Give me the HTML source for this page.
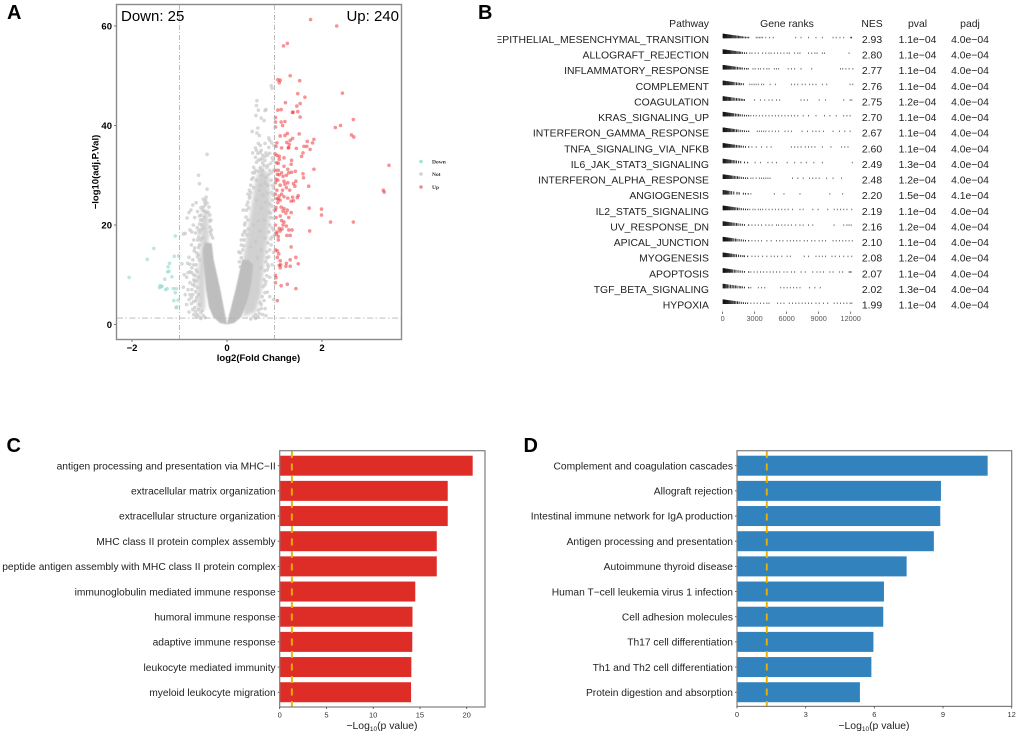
<!DOCTYPE html>
<html><head><meta charset="utf-8"><title>Figure panels</title>
<style>
html,body{margin:0;padding:0;background:#fff}
svg{display:block}
text{font-family:"Liberation Sans",sans-serif}
</style></head>
<body>
<svg id="fig" xmlns="http://www.w3.org/2000/svg" width="1020" height="738" viewBox="0 0 1020 738">
<defs>
<clipPath id="pw-clip"><rect x="497.5" y="20" width="220" height="300"/></clipPath>
<filter id="soft-wing" x="-20%" y="-20%" width="140%" height="140%"><feGaussianBlur stdDeviation="1.6"/></filter>
<filter id="soft-core" x="-20%" y="-20%" width="140%" height="140%"><feGaussianBlur stdDeviation="0.6"/></filter>
</defs>
<rect width="1020" height="738" fill="#fff"/>
<text x="7" y="19" font-size="20" font-weight="bold">A</text>
<text x="478" y="19" font-size="20" font-weight="bold">B</text>
<text x="6.5" y="452" font-size="20" font-weight="bold">C</text>
<text x="523.5" y="452" font-size="20" font-weight="bold">D</text>
<g id="volcano"></g>
<text x="121" y="21" font-size="15">Down: 25</text>
<text x="399" y="21" font-size="15" text-anchor="end">Up: 240</text>
<text x="258.5" y="361" font-size="9.5" font-weight="bold" text-anchor="middle">log2(Fold Change)</text>
<text transform="translate(98.5,172) rotate(-90)" font-size="9.5" font-weight="bold" text-anchor="middle">−log10(adj.P.Val)</text>
<g>
<circle cx="421" cy="161.5" r="1.8" fill="#a6e0d8"/>
<text x="432" y="163.5" font-size="5.5" font-weight="bold" style="font-family:'Liberation Serif',serif" fill="#333">Down</text>
<circle cx="421" cy="174" r="1.8" fill="#d0d0d0"/>
<text x="432" y="176" font-size="5.5" font-weight="bold" style="font-family:'Liberation Serif',serif" fill="#333">Not</text>
<circle cx="421" cy="187" r="1.8" fill="#f58a8a"/>
<text x="432" y="189" font-size="5.5" font-weight="bold" style="font-family:'Liberation Serif',serif" fill="#333">Up</text>
</g>
<g id="gsea"></g>
<g id="barC"></g>
<g id="barD"></g>
</svg>
<script>
/* ---------- Panel A data (log2FC, -log10 adj P) ---------- */
const volcanoXTicks = [-2, 0, 2];
const volcanoYTicks = [0, 20, 40, 60];
const fcCutoff = 1;
const pCutoff = 1.3;
const coreBandLeft = [[0,0],[-0.15,0.3],[-0.29,1.5],[-0.38,3.5],[-0.44,7],[-0.48,11],[-0.51,15],[-0.46,16.5],[-0.32,16.3],[-0.28,13],[-0.21,10],[-0.14,7],[-0.08,4],[-0.02,1]];
const coreBandRight = [[0,0],[0.15,0.3],[0.3,1.5],[0.38,3.5],[0.46,6],[0.52,9],[0.55,12],[0.45,13],[0.32,13],[0.25,10],[0.18,7],[0.1,4],[0.02,1]];
const wingLeft = [[-0.62,3],[-0.62,10],[-0.56,15],[-0.54,20],[-0.48,23],[-0.4,23],[-0.38,18],[-0.46,10],[-0.46,3]];
const wingRight = [[0.35,1.5],[0.6,2.5],[0.72,6],[0.78,12],[0.86,18],[0.92,24],[0.88,30],[0.72,32],[0.6,29],[0.52,24],[0.42,18],[0.34,13],[0.32,7]];
const notPoints = [[-0.92,18.2],[-0.88,18.3],[-0.8,22.5],[-0.76,23],[-0.72,24],[-0.65,24.5],[-0.6,30],[-0.58,28.3],[-0.42,34.2],[-0.42,27.2],[-0.5,25.2],[-0.47,24.6],[-0.55,23.5],[-0.62,22.7],[-0.68,21.5],[-0.71,20],[-0.66,18.4],[-0.62,17],[-0.75,16],[-0.8,13.5],[-0.83,12.3],[-0.78,12.1],[-0.72,13],[-0.95,12.2],[-0.9,10],[-0.85,9.5],[-0.92,7.5],[-0.82,7],[-0.78,6],[-0.88,6],[-0.75,4.2],[-0.85,4],[-0.8,2.5],[-0.7,2],[-0.65,1.7],[-0.6,3],[-0.68,7.8],[-0.6,9.5],[-0.65,11],[-0.58,13],[-0.6,15.5],[-0.55,19],[-0.52,21],[-0.7,9],[-0.74,10.4],[-0.69,14.8],[-0.63,19.5],[-0.58,21.8],[-0.6,6],[-0.66,4.8],[-0.72,3],[-0.55,1.2],[-0.48,22.8],[-0.4,22.5],[-0.36,20.8],[-0.33,19],[-0.44,25.6],[-0.52,17.4],
[-0.74,7],[-0.72,6],[-0.7,4.6],[-0.68,3.4],[-0.66,2.6],[-0.62,2],[-0.58,1.5],[-0.7,10],[-0.68,8.6],[-0.66,6.6],[-0.64,5.4],[-0.67,9.8],[-0.65,12],[-0.63,10.6],[-0.62,13.6],[-0.64,14.4],[-0.6,14],[-0.58,16],[-0.6,17.6],[-0.58,18.4],[-0.56,17],[-0.6,19],[-0.58,20.2],[-0.56,21],[-0.55,22],[-0.52,23],[-0.5,23.6],[-0.46,24],[-0.42,24.4],[-0.38,23.6],[-0.36,22],[-0.34,21],[-0.36,19.6],[-0.33,18],[-0.3,17.4],[-0.35,18.6],[-0.45,25],[-0.53,20],[-0.5,19.4],[-0.48,21.6],[-0.44,22.6],[-0.78,8.4],[-0.8,5],[-0.75,5.4],[-0.72,8],[-0.78,10.6],[-0.74,11.4],[-0.7,12],[-0.82,10.4],[-0.68,15.4],[-0.7,17],[-0.74,18.6],[-0.78,19],[-0.84,21.4],[-0.62,7.4],[-0.64,8.8],[-0.58,4],[-0.55,2.4],[-0.5,1.8],[-0.52,2.8],[-0.46,1.4],
[0.93,48],[0.95,47.5],[0.63,45],[0.62,44],[0.66,43.1],[0.8,43],[0.82,43.2],[0.61,42],[0.72,41.5],[0.78,41],[0.65,39.5],[0.53,38.8],[0.63,38.5],[0.68,38],[0.88,37.5],[0.9,37],[0.94,36.5],[0.99,36],[0.6,35.5],[0.62,35],[0.54,34.5],[0.72,35],[0.75,34],[0.82,34.5],[0.95,33.5],[0.97,33],[0.75,32.5],[0.78,32],[0.7,31.5],[0.6,31],[0.58,30.5],[0.66,30.8],[0.73,30],[0.84,31.6],[0.92,32.4],[0.98,31],[0.88,30.2],[0.93,29],[0.55,29.5],[0.62,29],[0.5,26.5],[0.44,26.2],[0.47,25.4],[0.56,27.5],[0.7,28],[0.8,28.4],[0.98,27.4],[0.96,25],[0.99,23],[0.92,21.5],[0.98,19],[1,18],[0.95,17.6],[0.93,16],[0.98,14.5],[0.95,12],[0.87,11.6],[0.85,11],[0.9,9.5],[0.8,8],[0.85,6.5],[0.9,5.6],[0.98,5],[0.8,3.2],[0.75,2],[0.65,1.6],[0.72,4],[0.84,13.4],[0.38,20.4],[0.36,18.5],[0.34,23],[0.42,24],[0.3,17],[0.25,14.6],[0.6,1.2],[0.5,1.1],[0.82,1.8],[0.72,11.4],[0.9,24.2],[0.86,26.4],[0.35,15.8],[0.45,19.2],
[0.62,32.6],[0.66,33],[0.7,33.2],[0.74,33.3],[0.8,33],[0.86,32],[0.9,31],[0.94,30.5],[0.96,28],[0.94,26.5],[0.97,26],[0.95,23.8],[0.92,22.4],[0.97,21.4],[0.9,20],[0.95,19.4],[0.88,18.6],[0.92,17.2],[0.86,16.4],[0.9,15],[0.84,14.6],[0.88,13.6],[0.82,12.6],[0.86,12],[0.8,10.8],[0.84,9.8],[0.78,9],[0.82,8.6],[0.76,7.6],[0.8,6.4],[0.74,5.6],[0.78,4.8],[0.7,4.4],[0.72,3.2],[0.66,2.9],[0.68,2.2],[0.6,2],[0.56,1.6],
[0.56,31.6],[0.54,30.5],[0.52,29.2],[0.5,28],[0.47,27],[0.48,25.8],[0.44,24.6],[0.46,23.4],[0.41,23],[0.4,21.6],[0.44,21],[0.37,20],[0.38,18.8],[0.42,18],[0.33,18],[0.36,17],[0.3,16],[0.33,15],[0.28,14.4],[0.3,13.4],[0.26,12.6],[0.28,11.6],
[0.6,33.6],[0.65,34.4],[0.7,34.6],[0.8,33.8],[0.85,34],[0.9,34.4],[0.88,35.6],[0.66,36.4],[0.7,36],[0.8,36.4],[0.74,31],[0.82,29.6],[0.86,28],[0.68,27],[0.76,26],[0.82,24.6],[0.72,23.4],[0.62,25],[0.88,22.6],[0.78,21],[0.66,20.8],[0.56,20],[0.7,18.8],[0.8,17.4],[0.6,16.6],[0.5,15.6],[0.72,15],[0.64,13.4]];
const upPoints = [[1.76,61.3],[2.31,60],[1.19,56],[1.27,56.5],[1.33,50],[1.07,49.2],[1.12,49.1],[1.1,48.6],[1.53,49],[2.43,46.5],[1.49,46.4],[1.64,45.7],[1.54,44.4],[1.47,43.9],[1.23,44.6],[1.07,43.1],[1.14,43.2],[1.38,42.6],[1.39,42.7],[1.49,42.8],[1.02,41.6],[1.54,41.7],[2.66,41.2],[1.14,40.7],[1.22,40.8],[1.02,40.7],[1.17,40],[1.02,39.7],[2.39,40],[2.28,39.6],[2.62,38.1],[2.67,37.7],[1.52,38.3],[3.41,32],[3.29,27],[3.31,26.6],
[1.27,38.4],[1.22,38],[1.12,37.9],[1.38,37.4],[1.33,37],[1.26,36.6],[1.31,36.2],[1.05,36.5],[1.03,35.8],[1.15,35.5],[1.29,35.5],[1.3,35.6],[1.46,35.4],[1.62,35.8],[1.69,36.8],[1.83,37.2],[1.75,35.2],[1.6,34.5],[1.68,35.8],[1.8,36.5],[1.01,34.3],[1.05,34],[1.1,33.8],[1.2,33.5],[1.36,33],[1.57,33.8],[1.1,33.2],[1.04,32.5],[1.08,32.4],[1.35,32.2],[1.2,31.8],[1.28,31.2],[1.44,30.8],[1.83,31.2],[1.02,31],[1.08,31],[1.15,30.5],[1.25,30],[1.3,30.5],[1.36,30.6],[1.6,30.3],[1.61,29.5],[1.06,30.2],[1.1,30.1],[1.18,29.8],[1.03,29.2],[1.07,29],[1.2,28.8],[1.28,28.5],[1.4,28.3],[1.45,28.8],[1.02,28.5],[1.12,28],[1.22,28.2],[1.25,27.5],[1.43,27.8],[1.72,27.8],[1.05,27],[1.17,27],[1.32,27],[1.02,26.2],[1.15,26.2],[1.1,25.8],[1.2,25.7],[1.28,25.4],[1.38,25.6],[1.5,25.9],[1.48,25.5],[1.05,25.3],[1.08,25.2],[1.12,25],[1.35,24.8],[1.4,24.9],[1.07,24.5],[1.03,23.5],[1.14,23.6],[1.2,23.3],[1.27,23],[1.73,23.4],[1.99,23.2],[1.02,23],[1.18,22.8],[1.24,22.4],[1.35,22.5],[1.99,22],[1.03,21.5],[1.12,21.8],[1.3,21.5],[1.15,20.9],[1.2,20.6],[1.02,20],[1.18,20],[1.25,19.8],[2.18,20.6],[2.66,20.6],[1.1,19.3],[1.16,19.2],[1.3,19],[1.37,19],[1.74,18.8],[1.05,18.6],[1.12,18.8],[1.04,18.2],[1.08,17.7],[1.26,17.9],[1.33,17.9],[1.08,17],[1.35,15.6],[1.02,15],[1.06,14.8],[1.09,14.2],[1.06,13.5],[1.45,13.5],[1.33,13],[1.12,12.8],[1.25,12.3],[1.13,12],[1.5,12.2],[1.1,11.9],[1.33,11.7],[1.24,11.7],[1.12,11.4],[1.02,9.9],[1.03,9.4],[1.02,8.4],[1.14,7.8],[1.27,8.1],[1.45,7.2],[1.06,4.8]];
const downPoints = [[-2.06,9.45],[-1.68,13.1],[-1.54,15.3],[-1.09,17.8],[-1.11,13.7],[-1.02,13.8],[-1.21,12.3],[-1.24,11.6],[-1.25,10.6],[-1.16,9.6],[-1.31,9.1],[-1.22,10.7],[-1.41,7.8],[-1.38,7.6],[-1.42,7.4],[-1.29,7],[-1.26,7.2],[-1.13,7.2],[-1.07,7.2],[-1.09,6.4],[-1.12,4.8],[-1.03,4.9],[-1.07,3.4],[-1.06,3.5],[-1.37,7.7]];

/* ---------- Panel B data ---------- */
const pathways = ["HALLMARK_EPITHELIAL_MESENCHYMAL_TRANSITION","ALLOGRAFT_REJECTION","INFLAMMATORY_RESPONSE","COMPLEMENT","COAGULATION","KRAS_SIGNALING_UP","INTERFERON_GAMMA_RESPONSE","TNFA_SIGNALING_VIA_NFKB","IL6_JAK_STAT3_SIGNALING","INTERFERON_ALPHA_RESPONSE","ANGIOGENESIS","IL2_STAT5_SIGNALING","UV_RESPONSE_DN","APICAL_JUNCTION","MYOGENESIS","APOPTOSIS","TGF_BETA_SIGNALING","HYPOXIA"];
const nesValues = ["2.93","2.80","2.77","2.76","2.75","2.70","2.67","2.60","2.49","2.48","2.20","2.19","2.16","2.10","2.08","2.07","2.02","1.99"];
const pvalValues = ["1.1e−04","1.1e−04","1.1e−04","1.1e−04","1.2e−04","1.1e−04","1.1e−04","1.1e−04","1.3e−04","1.2e−04","1.5e−04","1.1e−04","1.2e−04","1.1e−04","1.2e−04","1.1e−04","1.3e−04","1.1e−04"];
const padjValues = ["4.0e−04","4.0e−04","4.0e−04","4.0e−04","4.0e−04","4.0e−04","4.0e−04","4.0e−04","4.0e−04","4.0e−04","4.1e−04","4.0e−04","4.0e−04","4.0e−04","4.0e−04","4.0e−04","4.0e−04","4.0e−04"];
const rankTicks = [0,3000,6000,9000,12000];
const geneRanks = [
[0,40,80,130,180,230,290,350,420,490,560,640,720,800,900,1000,1100,1200,1320,1440,1560,1680,1800,1950,2100,2250,2400,3100,3250,3400,3550,3700,4000,4350,4700,6800,7300,8000,8700,9300,10300,10600,10950,11300,11950,12000,12030],
[0,40,80,120,170,220,270,330,390,460,530,600,680,760,850,950,1050,1150,1280,1400,1520,1650,1800,2000,2200,2500,2700,3000,3300,3700,4000,4300,4500,4800,5100,5400,5700,6000,6200,6700,7000,7200,8000,8300,8600,8800,9300,9500,11800],
[0,40,90,140,200,260,330,400,480,560,650,750,850,960,1080,1200,1350,1500,1650,1800,2000,2200,2350,2800,3000,3300,3500,3800,4100,4300,4800,5000,5200,6100,6400,6700,7300,8300,11000,11200,11500,11800,12150],
[0,50,100,160,230,300,380,460,550,650,750,850,950,1100,1250,1400,1550,1700,1900,2500,2700,2900,3100,3300,3600,3800,4400,4900,6400,6700,7000,7400,7700,8100,8400,8700,9300,9700,11900,12150],
[0,50,110,170,240,320,400,500,600,700,820,950,1100,1250,1400,1550,1700,1850,2000,2950,3500,3900,4300,4600,5000,5300,7300,7600,7900,9000,9600,11300,11900,12050],
[0,40,80,130,180,240,300,370,440,520,600,700,800,900,1000,1150,1300,1450,1600,1800,2000,2200,2400,2600,2850,3100,3400,3700,4000,4300,4600,4900,5200,5500,5800,6100,6400,6700,7000,7500,8000,8700,9500,10000,10600,11300,11600,11900],
[0,40,80,130,190,250,320,390,470,560,650,750,860,980,1100,1250,1400,1600,1800,2000,2200,2400,3200,3400,3600,3800,4000,4300,4600,4900,5200,5800,6100,6400,7400,7900,8400,8700,9000,9400,10300,10900,11400,11900],
[0,40,80,130,180,240,300,370,440,520,600,700,800,900,1000,1100,1250,1400,1550,1700,1900,2100,2400,2700,3100,3600,4100,4500,6400,6700,7000,7300,7700,8000,8300,8600,9300,10100,11100,11400,11700],
[0,50,110,170,240,310,400,490,590,700,820,950,1100,1250,1450,1650,2000,2300,3000,3500,4200,4600,5000,6000,6700,7300,7800,8500,9300,12100],
[0,40,90,140,200,270,340,420,500,590,700,800,920,1050,1200,1350,1500,1700,1900,2100,2300,2600,2800,3100,3400,3600,3800,4000,4200,4400,6500,7000,7500,8100,8400,8700,9000,9700,10300,11100],
[0,70,150,230,320,420,520,650,800,1000,1300,1500,1900,2100,2350,2600,4800,5700,7200,10000,11200],
[0,40,80,120,170,220,280,340,410,480,560,650,750,850,950,1080,1200,1350,1500,1700,1900,2100,2300,2500,2800,3000,3300,3500,3700,4000,4300,4600,4900,5200,5500,5800,6100,6500,7200,7500,8400,8900,9800,10400,10700,11000,11300,11600,12050],
[0,50,100,160,220,290,360,440,520,620,720,820,950,1100,1250,1400,1600,1800,2000,2400,2700,3000,3300,3600,4000,4300,4600,5000,5200,5500,5800,6100,6400,6800,7200,7500,8000,8400,10400,11300,11600,11800,12000],
[0,40,80,120,170,220,280,340,410,480,560,650,750,850,1000,1150,1300,1500,1700,1900,2100,2400,2700,3000,3300,3600,4100,4500,5000,5300,5600,6000,6300,6600,6900,7200,7600,7900,8300,8600,9000,9300,9600,10300,10600,10900,11200,11500,11800,12100],
[0,50,100,160,220,290,360,440,520,620,720,820,950,1100,1250,1450,1650,1850,2000,2300,2700,3000,3300,3700,4100,4500,4800,5100,5500,6000,6300,7600,8000,8700,9000,9300,9600,10200,10500,10900,11300,11700,12050],
[0,40,80,130,180,240,300,370,440,520,600,700,800,900,1050,1200,1400,1600,1800,2000,2400,2600,2900,3200,3500,3800,4100,4400,4700,5000,5300,5700,6000,6400,6700,7300,7700,8400,8800,9100,9400,10000,10300,10900,11200,11800,11900,12000],
[0,60,130,210,300,420,550,700,850,1000,1150,1300,1500,1650,1800,2000,2400,2600,3300,3600,3900,5400,5700,6000,6300,6600,6900,7200,8100,8600,9100],
[0,40,80,120,170,220,280,340,410,480,560,650,750,850,950,1080,1200,1350,1500,1700,1900,2100,2300,2600,2900,3200,3500,3800,4100,4300,5100,5400,5700,6200,6500,6800,7100,7400,7700,8000,8300,8700,9000,9400,9800,10400,10700,11000,11300,11600,11900,12050]
];

/* ---------- Panels C and D data ---------- */
const goTerms = ["antigen processing and presentation via MHC−II","extracellular matrix organization","extracellular structure organization","MHC class II protein complex assembly","peptide antigen assembly with MHC class II protein complex","immunoglobulin mediated immune response","humoral immune response","adaptive immune response","leukocyte mediated immunity","myeloid leukocyte migration"];
const goValues = [20.64,17.97,17.97,16.8,16.8,14.5,14.2,14.18,14.08,14.05];
const goTicks = [0,5,10,15,20];
const keggTerms = ["Complement and coagulation cascades","Allograft rejection","Intestinal immune network for IgA production","Antigen processing and presentation","Autoimmune thyroid disease","Human T−cell leukemia virus 1 infection","Cell adhesion molecules","Th17 cell differentiation","Th1 and Th2 cell differentiation","Protein digestion and absorption"];
const keggValues = [10.95,8.91,8.88,8.6,7.41,6.42,6.39,5.96,5.87,5.37];
const keggTicks = [0,3,6,9,12];
const sigThreshold = 1.3;

/* ---------- helpers ---------- */
const NS = "http://www.w3.org/2000/svg";
function mk(parent, tag, attrs, txt) {
  const e = document.createElementNS(NS, tag);
  for (const k in attrs) e.setAttribute(k, attrs[k]);
  if (txt !== undefined) e.textContent = txt;
  parent.appendChild(e);
  return e;
}

/* ---------- Panel A ---------- */
(function () {
  const g = document.getElementById("volcano");
  const sx = v => 227 + v * 47.5;
  const sy = v => 324.5 - v * 4.975;
  function band(pts, fill, op, name, filter) {
    const p = mk(g, "polygon", {points: pts.map(d => sx(d[0]) + "," + sy(d[1])).join(" "), fill: fill, opacity: op, filter: filter});
    
    
  }
  band(wingLeft, "#cacaca", 0.8, "not-wing-left", "url(#soft-wing)");
  band(wingRight, "#cacaca", 0.85, "not-wing-right", "url(#soft-wing)");
  notPoints.forEach(d => {
    const c = mk(g, "circle", {cx: sx(d[0]), cy: sy(d[1]), r: 1.8, fill: "#c8c8c8", opacity: 0.7});
    
    
  });
  band(coreBandLeft, "#bebebe", 1, "not-core-left", "url(#soft-core)");
  band(coreBandRight, "#bebebe", 1, "not-core-right", "url(#soft-core)");
  downPoints.forEach(d => {
    const c = mk(g, "circle", {cx: sx(d[0]), cy: sy(d[1]), r: 1.8, fill: "#9fdcd2", opacity: 0.7});
    
    
  });
  upPoints.forEach(d => {
    const c = mk(g, "circle", {cx: sx(d[0]), cy: sy(d[1]), r: 1.8, fill: "#f0252b", opacity: 0.5});
    
    
  });
  [-fcCutoff, fcCutoff].forEach(v => {
    const l = mk(g, "line", {x1: sx(v), x2: sx(v), y1: 5, y2: 339, stroke: "#b5b5b5", "stroke-width": 0.9, "stroke-dasharray": "5 2 1 2"});
    
    
  });
  const h = mk(g, "line", {x1: 117, x2: 401, y1: sy(pCutoff), y2: sy(pCutoff), stroke: "#b5b5b5", "stroke-width": 0.9, "stroke-dasharray": "6 2.5 1.5 2.5"});
  
  
  const fr = mk(g, "rect", {x: 116.5, y: 4.5, width: 285, height: 335, fill: "none", stroke: "#8a8a8a", "stroke-width": 1.4});
  
  
  volcanoXTicks.forEach(v => {
    const tk = mk(g, "line", {x1: sx(v), x2: sx(v), y1: 340, y2: 342, stroke: "#555", "stroke-width": 0.8});
    
    
    const t = mk(g, "text", {x: sx(v), y: 351, "font-size": 9.5, "font-weight": "bold", "text-anchor": "middle"}, String(v).replace("-", "−"));
    
    
  });
  volcanoYTicks.forEach(v => {
    const tk = mk(g, "line", {x1: 114, x2: 116, y1: sy(v), y2: sy(v), stroke: "#555", "stroke-width": 0.8});
    
    
    const t = mk(g, "text", {x: 112, y: sy(v) + 3.3, "font-size": 9.5, "font-weight": "bold", "text-anchor": "end"}, v);
    
    
  });
})();

/* ---------- Panel B ---------- */
(function () {
  const g = document.getElementById("gsea");
  const sx = r => 722.6 + r * (128.1 / 12000);
  const rowY = i => 39.3 + i * 15.63;
  const heads = [["Pathway", 709, "end"], ["Gene ranks", 787, "middle"], ["NES", 872, "middle"], ["pval", 917.5, "middle"], ["padj", 970, "middle"]];
  heads.forEach(h => {
    const t = mk(g, "text", {x: h[1], y: 27, "font-size": 10.4, "text-anchor": h[2], fill: "#222"}, h[0]);
    
    
  });
  pathways.forEach((p, i) => {
    const y = rowY(i);
    const base = y + 3.6;
    const t = mk(g, "text", {x: 709, y: base, "font-size": 10.4, "text-anchor": "end", fill: "#222", "clip-path": "url(#pw-clip)"}, p);
    
    
    const n = mk(g, "text", {x: 872, y: base, "font-size": 10.4, "text-anchor": "middle", fill: "#222"}, nesValues[i]);
    
    
    const pv = mk(g, "text", {x: 917.5, y: base, "font-size": 10.4, "text-anchor": "middle", fill: "#222"}, pvalValues[i]);
    
    
    const pa = mk(g, "text", {x: 970, y: base, "font-size": 10.4, "text-anchor": "middle", fill: "#222"}, padjValues[i]);
    
    
    geneRanks[i].forEach(r => {
      const hgt = Math.max(1.5, 4.6 - r / 700);
      const m = mk(g, "rect", {x: sx(r), y: y - 1 - hgt, width: 1, height: hgt, fill: "#111", opacity: r < 2500 ? 0.9 : 0.6});
      
      
    });
  });
  rankTicks.forEach(v => {
    const tk = mk(g, "line", {x1: sx(v), x2: sx(v), y1: 311.5, y2: 314, stroke: "#444", "stroke-width": 0.7});
    
    
    const t = mk(g, "text", {x: sx(v), y: 321, "font-size": 7.3, "text-anchor": "middle", fill: "#555"}, v);
    
    
  });
})();

/* ---------- Panels C and D ---------- */
function barChart(id, terms, values, ticks, o) {
  const g = document.getElementById(id);
  const sx = v => o.x0 + v * o.k;
  const cy = i => 465.7 + i * 25.17;
  terms.forEach((t, i) => {
    const b = mk(g, "rect", {x: o.x0, y: cy(i) - 10, width: values[i] * o.k, height: 20, fill: o.color});
    
    
    const tk = mk(g, "line", {x1: o.x0 - 2, x2: o.x0, y1: cy(i), y2: cy(i), stroke: "#444", "stroke-width": 0.8});
    
    
    const l = mk(g, "text", {x: o.x0 - 4, y: cy(i) + 3.7, "font-size": 10.25, "text-anchor": "end", fill: "#222"}, t);
    
    
  });
  const d = mk(g, "line", {x1: sx(sigThreshold), x2: sx(sigThreshold), y1: 451, y2: o.bottom, stroke: "#e8b000", "stroke-width": 1.9, "stroke-dasharray": "7 5.5"});
  
  
  const f = mk(g, "rect", {x: o.x0, y: 450.7, width: o.w, height: o.bottom - 450.7, fill: "none", stroke: "#7d7d7d", "stroke-width": 1.2});
  
  
  ticks.forEach(v => {
    const tk = mk(g, "line", {x1: sx(v), x2: sx(v), y1: o.bottom, y2: o.bottom + 2, stroke: "#444", "stroke-width": 0.8});
    
    
    const t = mk(g, "text", {x: sx(v), y: o.bottom + 10.5, "font-size": 7.5, "text-anchor": "middle", fill: "#333"}, v);
    
    
  });
  const title = mk(g, "text", {x: o.tx, y: 729, "font-size": 10.4, "text-anchor": "middle", fill: "#222"}, "−Log");
  
  
  const s1 = mk(title, "tspan", {"font-size": 6.5, dy: 2}, "10");
  
  
  const s2 = mk(title, "tspan", {dy: -2}, "(p value)");
  
  
}
barChart("barC", goTerms, goValues, goTicks, {x0: 279.7, k: 9.35, w: 205.3, bottom: 707, color: "#de2d26", tx: 382});
barChart("barD", keggTerms, keggValues, keggTicks, {x0: 737, k: 22.89, w: 274.7, bottom: 706.4, color: "#3182bd", tx: 874});
</script>
</body></html>
